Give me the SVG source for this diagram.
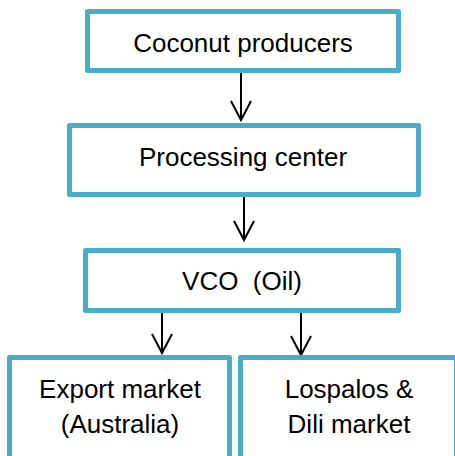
<svg xmlns="http://www.w3.org/2000/svg" width="455" height="456" viewBox="0 0 455 456">
<style>
.box{fill:#ffffff;stroke:#4BACC6;stroke-width:5;stroke-linejoin:round}
.lbl{font-family:"Liberation Sans",Arial,sans-serif;font-size:26px;fill:#000000;text-anchor:middle}
.conn{stroke:#000000;stroke-width:2;fill:none}
</style>
<defs>
<marker id="arr" markerUnits="userSpaceOnUse" markerWidth="30" markerHeight="30" refX="0" refY="0" orient="auto" viewBox="-25 -15 30 30" overflow="visible">
<path d="M-19,-10 L0,0 L-19,10" fill="none" stroke="#000000" stroke-width="2" stroke-linejoin="miter"/>
</marker>
</defs>
<rect width="455" height="456" fill="#ffffff"/>
<g id="connectors">
<line class="conn" x1="241" y1="73" x2="241" y2="120" marker-end="url(#arr)"/>
<line class="conn" x1="244" y1="197" x2="244" y2="240" marker-end="url(#arr)"/>
<line class="conn" x1="162" y1="313" x2="162" y2="353" marker-end="url(#arr)"/>
<line class="conn" x1="301" y1="313" x2="301" y2="355" marker-end="url(#arr)"/>
</g>
<g id="coconut-producers">
<rect class="box" x="87.5" y="11.5" width="311" height="59"/>
<text class="lbl" x="243" y="52">Coconut producers</text>
</g>
<g id="processing-center">
<rect class="box" x="69.5" y="125.5" width="349" height="69"/>
<text class="lbl" x="243" y="166">Processing center</text>
</g>
<g id="vco-oil">
<rect class="box" x="85.5" y="250.5" width="313" height="60"/>
<text class="lbl" x="242" y="290" xml:space="preserve">VCO  (Oil)</text>
</g>
<g id="export-market">
<rect class="box" x="9.5" y="357.5" width="220" height="120"/>
<text class="lbl" x="120" y="398">Export market</text>
<text class="lbl" x="120" y="433">(Australia)</text>
</g>
<g id="lospalos-dili-market">
<rect class="box" x="240.5" y="357.5" width="216" height="120"/>
<text class="lbl" x="349" y="398">Lospalos &amp;</text>
<text class="lbl" x="349" y="433">Dili market</text>
</g>
</svg>
